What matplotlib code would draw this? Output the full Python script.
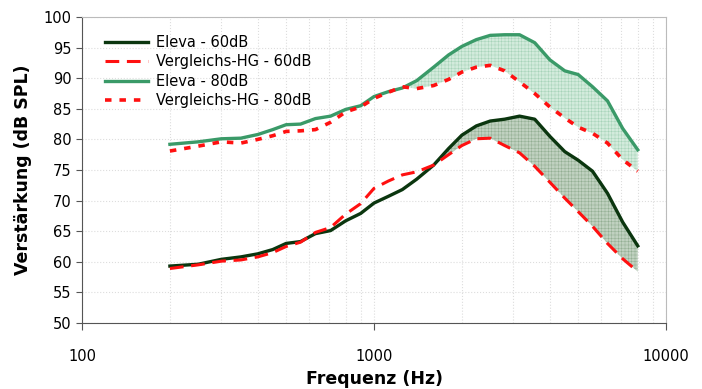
import numpy as np
import matplotlib
matplotlib.use("Agg")
import matplotlib.pyplot as plt

freq = [200, 250, 300, 350, 400, 450, 500, 560, 630, 710, 800, 900, 1000, 1120, 1250,
        1400, 1600, 1800, 2000, 2240, 2500, 2800, 3150, 3550, 4000, 4500, 5000, 5600,
        6300, 7100, 8000]
eleva_60 = [59.3, 59.6, 60.4, 60.8, 61.3, 62.0, 63.0, 63.3, 64.6, 65.1, 66.7, 67.9, 69.6,
            70.7, 71.8, 73.5, 75.8, 78.5, 80.7, 82.2, 83.0, 83.3, 83.8, 83.3, 80.5, 78.0,
            76.6, 74.8, 71.2, 66.5, 62.6]
hg_60 = [58.9, 59.5, 60.1, 60.3, 60.8, 61.5, 62.5, 63.2, 64.8, 65.6, 67.8, 69.5, 72.0,
         73.2, 74.2, 74.7, 75.8, 77.5, 79.0, 80.1, 80.2, 79.0, 77.8, 75.6, 73.0, 70.4,
         68.2, 65.8, 63.0, 60.5, 58.4]
eleva_80 = [79.2, 79.6, 80.1, 80.2, 80.8, 81.6, 82.4, 82.5, 83.4, 83.8, 84.9, 85.5, 87.0,
            87.8, 88.4, 89.6, 91.8, 93.8, 95.2, 96.3, 97.0, 97.1, 97.1, 95.8, 93.0, 91.2,
            90.6, 88.6, 86.3, 81.8, 78.3]
hg_80 = [78.1, 78.9, 79.6, 79.4, 80.0, 80.6, 81.3, 81.4, 81.6, 82.8, 84.5, 85.3, 86.7,
         87.7, 88.6, 88.3, 88.8, 89.8, 91.0, 91.8, 92.1, 91.2, 89.4, 87.5, 85.3, 83.5,
         82.0, 81.0, 79.4, 76.7, 74.8]
fill_from = {"60": 1450, "80": 1250}   # Schraffur erst ab dem Schnittpunkt

f = np.array(freq)
e60, h60, e80, h80 = map(np.array, (eleva_60, hg_60, eleva_80, hg_80))

plt.rcParams["hatch.linewidth"] = 0.3
fig = plt.figure(figsize=(7.02, 3.89), dpi=100)
ax = fig.add_axes([0.1168, 0.1697, 0.832, 0.7866])

ax.fill_between(f, e80, h80, where=(f >= fill_from["80"]) & (e80 >= h80), interpolate=True,
                facecolor="#d3ebdc", edgecolor="#9fcfb3", hatch="+++++", lw=0)
ax.fill_between(f, e60, h60, where=(f >= fill_from["60"]) & (e60 >= h60), interpolate=True,
                facecolor="#c0d1c0", edgecolor="#8aa88a", hatch="+++++", lw=0)

ax.plot(f, e60, color="#0b360f", lw=2.4, label="Eleva - 60dB")
ax.plot(f, h60, color="#ff1010", lw=2.2, ls=(0, (4.5, 2.5)), label="Vergleichs-HG - 60dB")
ax.plot(f, e80, color="#3a9a68", lw=2.4, label="Eleva - 80dB")
ax.plot(f, h80, color="#ff1010", lw=2.6, ls=(0, (1.8, 2.2)), label="Vergleichs-HG - 80dB")

ax.set_xscale("log")
ax.set_xlim(100, 10000)
ax.set_ylim(50, 100)
ax.set_yticks(range(50, 101, 5))
ax.set_xticks([100, 1000, 10000])
ax.set_xticklabels(["100", "1000", "10000"])
ax.tick_params(axis="x", which="major", length=5, pad=14, labelsize=10.5, color="#555555")
ax.tick_params(axis="x", which="minor", length=0)
ax.tick_params(axis="y", length=4, labelsize=10.5, color="#555555")
ax.grid(True, which="both", color="#dddddd", ls=":", lw=0.8)
ax.set_axisbelow(True)

for side in ("left", "bottom"):
    ax.spines[side].set_color("#555555")
for side in ("top", "right"):
    ax.spines[side].set_color("#bbbbbb")

ax.set_xlabel("Frequenz (Hz)", fontsize=12.5, fontweight="bold", labelpad=4)
ax.set_ylabel("Verstärkung (dB SPL)", fontsize=12.5, fontweight="bold", labelpad=8)
ax.legend(loc="upper left", bbox_to_anchor=(0.025, 0.97), frameon=False, fontsize=10.5,
          handlelength=2.9, handletextpad=0.6, labelspacing=0.3, borderaxespad=0.2)

fig.savefig("out.png", dpi=100)
